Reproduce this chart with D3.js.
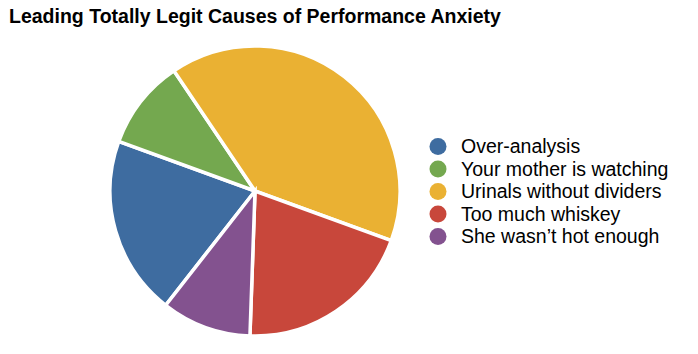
<!DOCTYPE html>
<html>
<head>
<meta charset="utf-8">
<script src="https://cdn.jsdelivr.net/npm/d3@7"></script>
<style>
  html, body { margin: 0; padding: 0; background: #fff; }
  svg { display: block; }
</style>
</head>
<body>
<div id="chart"></div>
<script>
// data
const causes = ["Over-analysis", "Your mother is watching", "Urinals without dividers", "Too much whiskey", "She wasn\u2019t hot enough"];
const shares = [20, 10, 40, 20, 10];
const sliceColors = ["#3e6ca0", "#74a84f", "#eab133", "#c8473b", "#83528f"];

const width = 698, height = 354;
const cx = 255, cy = 191, radius = 145;

const svg = d3.select("#chart").append("svg")
    .attr("width", width)
    .attr("height", height);

// title
svg.append("text")
    .attr("x", 9)
    .attr("y", 23)
    .attr("font-family", "Liberation Sans, Arial, sans-serif")
    .attr("font-weight", "bold")
    .attr("font-size", 19.5)
    .attr("fill", "#000")
    .text("Leading Totally Legit Causes of Performance Anxiety");

const color = d3.scaleOrdinal().domain(causes).range(sliceColors);

const startRad = 218 * Math.PI / 180;
const pie = d3.pie()
    .sort(null)
    .value(d => d.value)
    .startAngle(startRad)
    .endAngle(startRad + 2 * Math.PI);

const arc = d3.arc().innerRadius(0).outerRadius(radius);

const rows = causes.map((c, i) => ({ name: c, value: shares[i] }));

const g = svg.append("g").attr("transform", `translate(${cx},${cy})`);
g.selectAll("path")
    .data(pie(rows))
    .join("path")
    .attr("d", arc)
    .attr("fill", d => color(d.data.name))
    .attr("stroke", "#fff")
    .attr("stroke-width", 3.5)
    .attr("stroke-linejoin", "miter");

// legend
const legendY = d3.scalePoint().domain(causes).range([146.5, 236.5]);
const legend = svg.append("g");
const item = legend.selectAll("g")
    .data(causes)
    .join("g")
    .attr("transform", d => `translate(438,${legendY(d)})`);

item.append("circle")
    .attr("r", 8.5)
    .attr("fill", d => color(d));

item.append("text")
    .attr("x", 23)
    .attr("dy", "0.35em")
    .attr("font-family", "Liberation Sans, Arial, sans-serif")
    .attr("font-size", 19.5)
    .attr("fill", "#000")
    .text(d => d);
</script>
</body>
</html>
